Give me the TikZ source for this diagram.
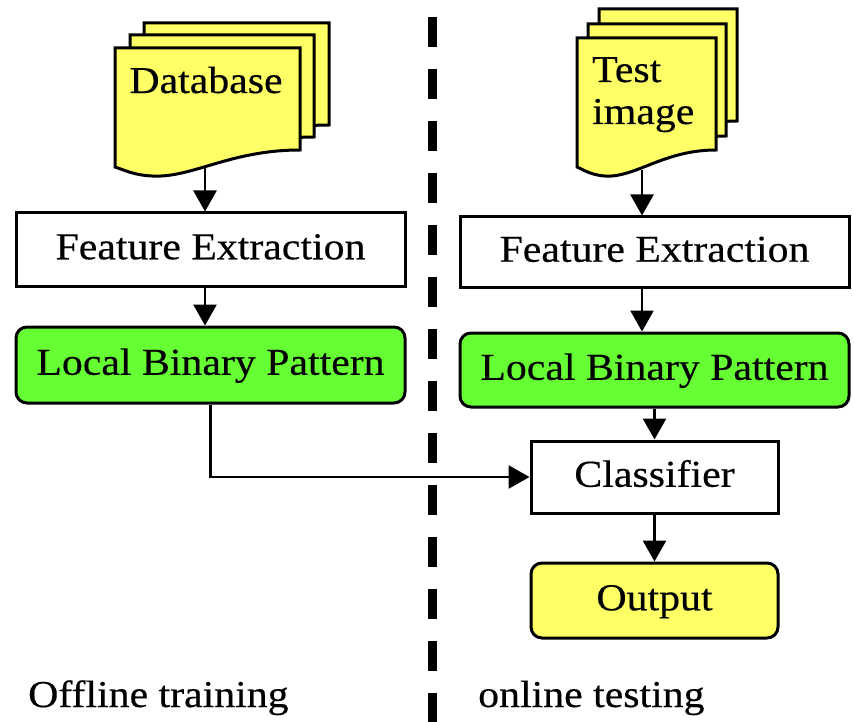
\documentclass[tikz,border=0pt]{standalone}
\usepackage{fontspec}
\setmainfont{Liberation Serif}[FakeStretch=1.1,FakeBold=0.4]
\usetikzlibrary{arrows.meta}
\definecolor{docyellow}{RGB}{255,255,102}
\definecolor{lbpgreen}{RGB}{102,255,51}

% paper sheet with a wavy lower edge: left, top, width, height of the right edge
\newcommand{\papersheet}[4]{%
  \draw[doc] (#1,#2) -- (#1+#3,#2) -- (#1+#3,#2+#4)
    .. controls (#1+0.65*#3,#2+#4) and (#1+0.45*#3,#2+#4+24) .. (#1+0.25*#3,#2+#4+26)
    .. controls (#1+0.12*#3,#2+#4+27) and (#1+0.05*#3,#2+#4+20) .. (#1,#2+#4+17) -- cycle;}

\begin{document}
\begin{tikzpicture}[x=1pt,y=-1pt,
  every node/.style={font=\fontsize{38}{44}\selectfont, text height=27pt, text depth=7.5pt, inner sep=0pt},
  box/.style={draw, line width=3pt, fill=white},
  lbp/.style={box, fill=lbpgreen, rounded corners=11pt},
  outbox/.style={box, fill=docyellow, rounded corners=11pt},
  flow/.style={line width=2.8pt, -{Triangle[length=21pt,width=23pt]}},
  doc/.style={draw, line width=3pt, fill=docyellow, line join=miter},
  divider/.style={line width=8.5pt, dash pattern=on 30pt off 22pt}
]
\useasboundingbox (0,0) rectangle (854,722);

% separator between training and testing
\coordinate (divtop) at (432.5,17);
\coordinate (divbot) at (432.5,740);
\draw[divider] (divtop) -- (divbot);

% database stack
\papersheet{144}{23}{185}{102}
\papersheet{130}{35}{184}{102}
\papersheet{115}{48}{185}{102}
\node[anchor=base] (db) at (206,93) {Database};
\coordinate (dbout) at (205,168);

% test image stack
\papersheet{599}{9}{138}{112}
\papersheet{588}{24}{138}{112}
\papersheet{577}{38}{139}{112}
\node[anchor=base west] (ti1) at (592,82) {Test};
\node[anchor=base west] (ti2) at (592,124) {image};
\coordinate (tiout) at (642,170);

% processing boxes
\node[box, minimum width=389pt, minimum height=73pt] (fe1) at (210.5,249.5) {Feature Extraction};
\node[lbp, minimum width=389pt, minimum height=76pt] (lbp1) at (210.5,365) {Local Binary Pattern};
\node[box, minimum width=389pt, minimum height=70pt] (fe2) at (654.5,252) {Feature Extraction};
\node[lbp, minimum width=389pt, minimum height=74pt] (lbp2) at (654.5,370) {Local Binary Pattern};
\node[box, minimum width=247pt, minimum height=72pt] (cls) at (654.5,477) {Classifier};
\node[outbox, minimum width=247pt, minimum height=75pt] (out) at (654.5,600.5) {Output};

% connectors
\draw[flow] (dbout) -- (dbout |- fe1.north);
\draw[flow] (fe1.south -| dbout) -- (lbp1.north -| dbout);
\draw[flow] (tiout) -- (tiout |- fe2.north);
\draw[flow] (fe2.south -| tiout) -- (lbp2.north -| tiout);
\draw[flow] (lbp2.south) -- (cls.north);
\draw[flow] (cls.south) -- (out.north);
\draw[flow] (lbp1.south) |- (cls.west);

% phase labels
\node[anchor=base west] (offl) at (28,707) {Offline training};
\node[anchor=base west] (onl) at (478,707) {online testing};
\end{tikzpicture}
\end{document}
